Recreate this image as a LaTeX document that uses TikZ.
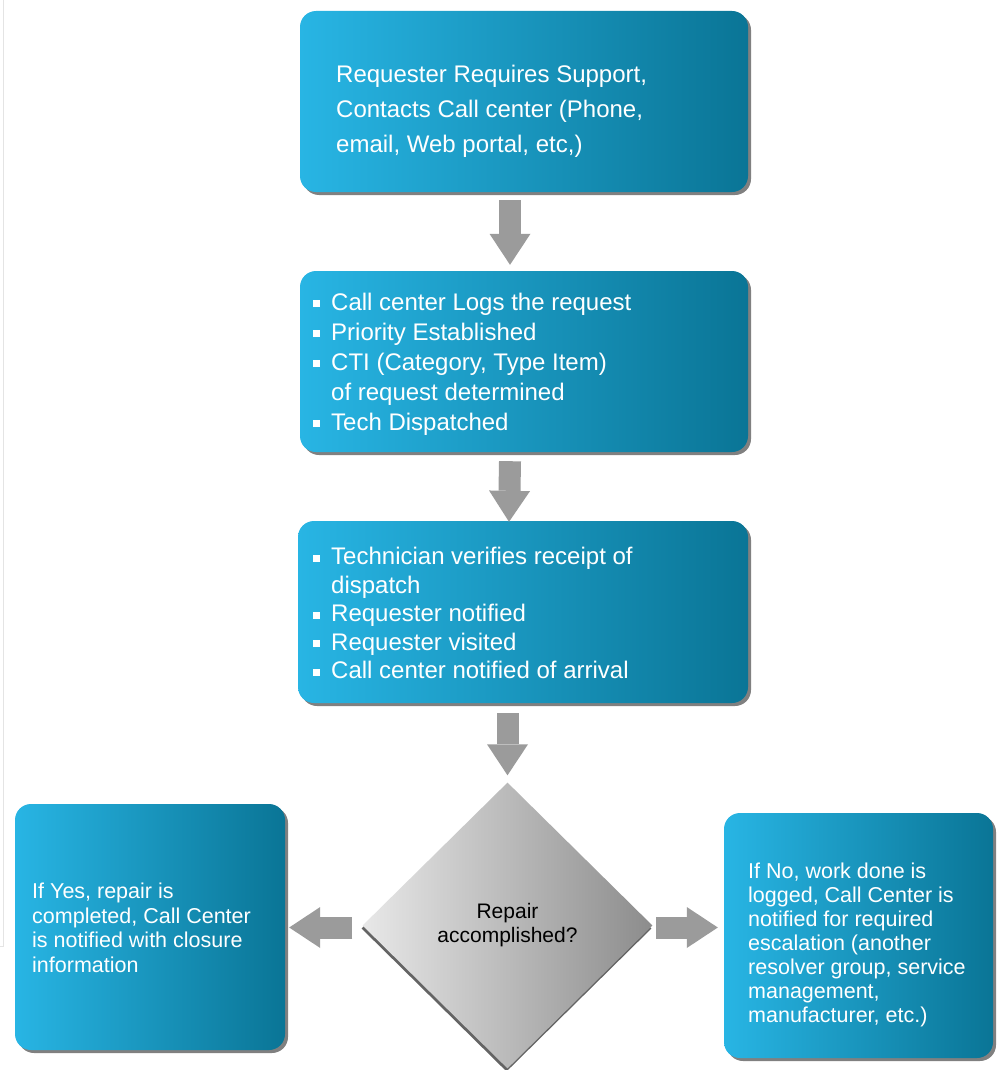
\documentclass[tikz,border=0pt]{standalone}
\usepackage{fontspec}
\setmainfont{Liberation Sans}
\usetikzlibrary{shapes.geometric,shadows,calc,arrows.meta}
\definecolor{boxL}{RGB}{40,181,228}
\definecolor{boxR}{RGB}{10,117,150}
\definecolor{arrowgray}{RGB}{155,155,155}
\definecolor{shadowgray}{RGB}{128,128,128}
\definecolor{diaL}{RGB}{232,232,232}
\definecolor{diaR}{RGB}{140,140,140}
\definecolor{diashadow}{RGB}{100,100,100}
\definecolor{strayline}{RGB}{228,228,228}
\newcommand{\bul}{\makebox[18pt][l]{\rule[3pt]{7pt}{7pt}}}
\newcommand{\ind}{\hspace*{18pt}}
\begin{document}
\begin{tikzpicture}[x=1pt,y=-1pt,
  procbox/.style={rectangle, rounded corners=16pt, left color=boxL, right color=boxR,
    draw=none, inner sep=0pt,
    drop shadow={shadow xshift=3pt, shadow yshift=-3pt, fill=shadowgray, opacity=1}},
  boxtext/.style={anchor=west, align=left, text=white, inner sep=0pt},
  decision/.style={diamond, left color=diaL, right color=diaR, draw=none, inner sep=0pt,
    align=center, text=black,
    drop shadow={shadow xshift=-1pt, shadow yshift=-3pt, fill=diashadow, opacity=1}},
  flowarrow/.style={draw=arrowgray, line width=22pt,
    -{Triangle[width=41pt,length=31pt,line width=0pt,fill=arrowgray]}}]
\useasboundingbox (0,0) rectangle (997,1070);
\draw[strayline, line width=1pt] (3,0) -- (3,946) -- (0,946);

\node[procbox, minimum width=448pt, minimum height=181pt] (b1) at (524,101.5) {};
\node[procbox, minimum width=448pt, minimum height=181pt] (b2) at (524,361.5) {};
\node[procbox, minimum width=450pt, minimum height=182pt] (b3) at (523,612) {};
\node[procbox, minimum width=270pt, minimum height=246pt] (bl) at (150,927) {};
\node[procbox, minimum width=269pt, minimum height=245pt] (br) at (858.5,935.5) {};
\node[decision, minimum width=290pt, minimum height=286pt,
  font=\fontsize{21}{24}\selectfont] (d) at (507.5,925.5) {Repair\\accomplished?};

\node[boxtext, font=\fontsize{24}{35}\selectfont] (t1) at (336,111)
  {Requester Requires Support,\\Contacts Call center (Phone,\\email, Web portal, etc,)};
\node[boxtext, font=\fontsize{24}{30}\selectfont] (t2) at (313,364)
  {\bul Call center Logs the request\\\bul Priority Established\\\bul CTI (Category, Type Item)\\\ind of request determined\\\bul Tech Dispatched};
\node[boxtext, font=\fontsize{24}{28.5}\selectfont] (t3) at (313,613)
  {\bul Technician verifies receipt of\\\ind dispatch\\\bul Requester notified\\\bul Requester visited\\\bul Call center notified of arrival};
\node[boxtext, font=\fontsize{21.5}{24.5}\selectfont] (tl) at (32,928)
  {If Yes, repair is\\completed, Call Center\\is notified with closure\\information};
\node[boxtext, font=\fontsize{21.5}{24}\selectfont] (tr) at (748,945)
  {If No, work done is\\logged, Call Center is\\notified for required\\escalation (another\\resolver group, service\\management,\\manufacturer, etc.)};

\draw[flowarrow] ($(b1.south)+(-14,8)$) -- ($(b2.north)+(-14,-6)$);
\draw[flowarrow] ($(b2.south)+(-14,9)$) -- ($(b3.north)+(-14,1)$);
\draw[flowarrow] ($(b3.south)+(-15.5,10)$) -- ($(d.north)+(0,-7)$);
\draw[flowarrow] ($(d.west)+(-10,2)$) -- ($(bl.east)+(4,0.5)$);
\draw[flowarrow] ($(d.east)+(3.5,2)$) -- ($(br.west)+(-6,-8)$);
\end{tikzpicture}
\end{document}
